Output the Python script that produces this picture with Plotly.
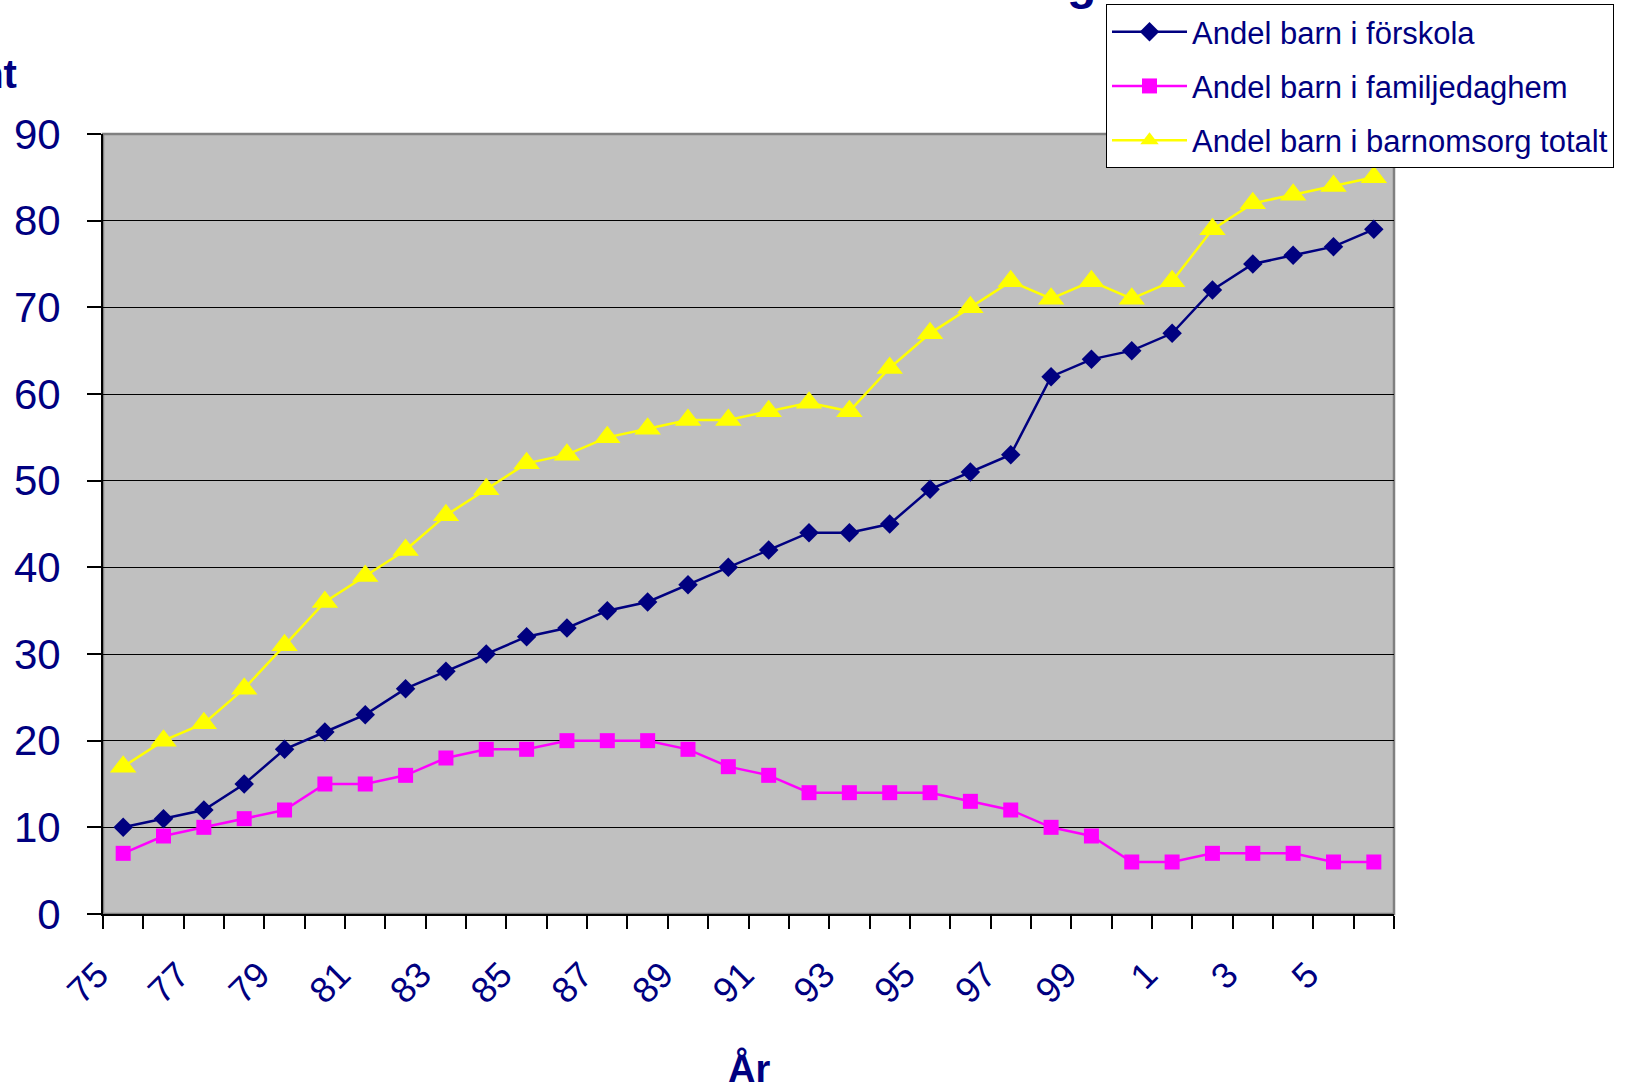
import plotly.graph_objects as go

years = list(range(1975, 2007))
tick_years = [1975, 1977, 1979, 1981, 1983, 1985, 1987, 1989, 1991, 1993, 1995, 1997, 1999, 2001, 2003, 2005]
tick_labels = ["75", "77", "79", "81", "83", "85", "87", "89", "91", "93", "95", "97", "99", "1", "3", "5"]

forskola = [10, 11, 12, 15, 19, 21, 23, 26, 28, 30, 32, 33, 35, 36, 38, 40,
            42, 44, 44, 45, 49, 51, 53, 62, 64, 65, 67, 72, 75, 76, 77, 79]
familjedaghem = [7, 9, 10, 11, 12, 15, 15, 16, 18, 19, 19, 20, 20, 20, 19, 17,
                 16, 14, 14, 14, 14, 13, 12, 10, 9, 6, 6, 7, 7, 7, 6, 6]
totalt = [17, 20, 22, 26, 31, 36, 39, 42, 46, 49, 52, 53, 55, 56, 57, 57,
          58, 59, 58, 63, 67, 70, 73, 71, 73, 71, 73, 79, 82, 83, 84, 85]

names = ["Andel barn i förskola", "Andel barn i familjedaghem", "Andel barn i barnomsorg totalt"]

NAVY = "#000080"
FONT = "Liberation Sans, Arial, sans-serif"

fig = go.Figure()
fig.add_trace(go.Scatter(x=years, y=forskola, name=names[0], mode="lines+markers",
                         line=dict(color=NAVY, width=2.5),
                         marker=dict(symbol="diamond", size=15, color=NAVY),
                         legendgroup="a"))
fig.add_trace(go.Scatter(x=years, y=familjedaghem, name=names[1], mode="lines+markers",
                         line=dict(color="#FF00FF", width=2.5),
                         marker=dict(symbol="square", size=15, color="#FF00FF"),
                         legendgroup="b"))
fig.add_trace(go.Scatter(x=years, y=totalt, name=names[2], mode="lines+markers",
                         line=dict(color="#FFFF00", width=2.5),
                         marker=dict(symbol="triangle-up", size=23, color="#FFFF00"),
                         legendgroup="c"))

W, H = 1627, 1090
L, R, T, B = 103, 233, 134, 176
pw, ph = W - L - R, H - T - B

def px(x):
    return (x - L) / pw

def py(y):
    return 1 + (T - y) / ph

# Excel draws the rotated labels a little left of / below the category centre
label_pos = [y - 0.1 for y in tick_years]
label_text = [t + "\u00a0\u00a0\u00a0" for t in tick_labels]

fig.update_layout(
    width=W, height=H,
    margin=dict(l=L, r=R, t=T, b=B, autoexpand=False),
    paper_bgcolor="white",
    plot_bgcolor="#C0C0C0",
    font=dict(family=FONT, color=NAVY),
    showlegend=True,
    legend=dict(x=px(1106), y=py(4), xanchor="left", yanchor="top",
                bgcolor="white", bordercolor="black", borderwidth=1,
                font=dict(size=31, color=NAVY, family=FONT),
                tracegroupgap=11, itemwidth=75),
    xaxis=dict(range=[1974.5, 2006.5], tickmode="array", tickvals=label_pos, ticktext=label_text,
               tickangle=-45, tickfont=dict(size=36, color=NAVY),
               ticks="outside", ticklen=0, tickcolor="rgba(0,0,0,0)",
               ticklabelstandoff=2,
               minor=dict(tick0=1974.5, dtick=1, ticks="outside", ticklen=13,
                          tickcolor="black", tickwidth=1.5),
               showgrid=False, zeroline=False,
               showline=True, linecolor="black", linewidth=2),
    yaxis=dict(range=[0, 90], dtick=10, tickfont=dict(size=42, color=NAVY),
               ticks="outside", ticklen=14, tickcolor="black", tickwidth=1.5,
               ticklabelstandoff=18,
               showgrid=True, gridcolor="black", gridwidth=1, zeroline=False,
               showline=True, linecolor="black", linewidth=2),
    shapes=[dict(type="rect", xref="paper", yref="paper", x0=0, x1=1, y0=0, y1=1,
                 line=dict(color="#808080", width=2.5), layer="between")],
    annotations=[
        dict(text="<b>Procent</b>", xref="paper", yref="paper", x=px(19), y=py(74),
             xanchor="right", yanchor="middle", showarrow=False,
             font=dict(size=40, color=NAVY, family=FONT)),
        dict(text="<b>År</b>", xref="paper", yref="paper", x=px(749), y=py(1068),
             xanchor="center", yanchor="middle", showarrow=False,
             font=dict(size=38, color=NAVY, family=FONT)),
        dict(text="<b>Barn i barnomsorg</b>", xref="paper", yref="paper", x=px(1098), y=py(11),
             xanchor="right", yanchor="bottom", showarrow=False,
             font=dict(size=48, color=NAVY, family=FONT)),
    ],
)

fig.write_html("out.html")
